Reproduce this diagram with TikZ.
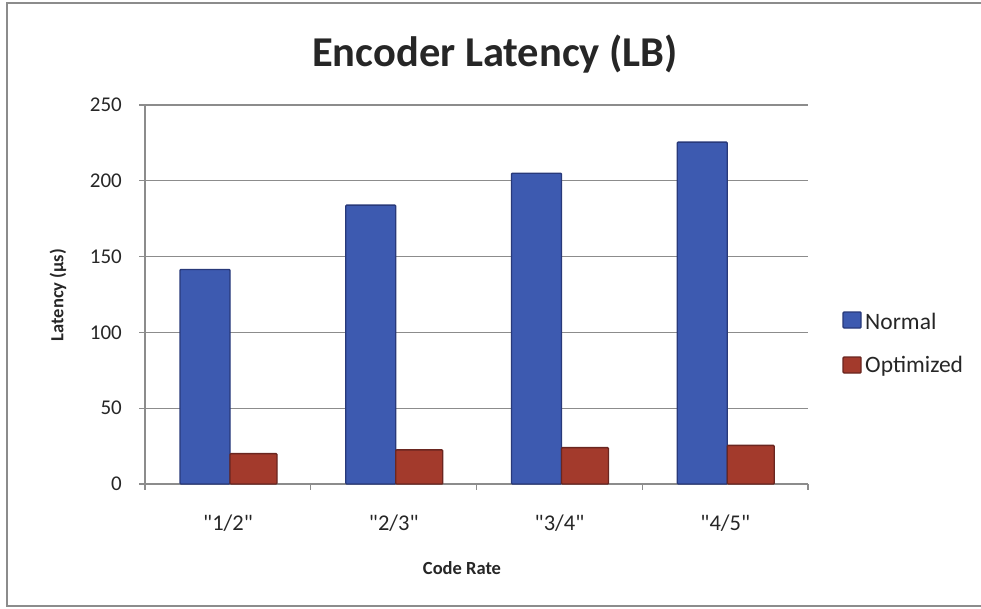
\documentclass[tikz,border=0pt]{standalone}
\usepackage{fontspec}
\setmainfont{Carlito}[Ligatures=TeXOff]
\definecolor{normalfill}{HTML}{3D5AB0}
\definecolor{normaledge}{HTML}{28397A}
\definecolor{optfill}{HTML}{A33A2C}
\definecolor{optedge}{HTML}{6A2620}
\definecolor{gridgray}{HTML}{8C8C8C}
\definecolor{textgray}{HTML}{262626}
\tikzset{
  gridline/.style={draw=gridgray, line width=1.1pt},
  axisline/.style={draw=gridgray, line width=1.3pt},
  normalbar/.style={fill=normalfill, draw=normaledge, line width=1.4pt, rounded corners=1pt},
  optbar/.style={fill=optfill, draw=optedge, line width=1.4pt, rounded corners=1pt},
  ticklabel/.style={font=\fontsize{21}{24}\selectfont, text=textgray, inner sep=0pt},
  catlabel/.style={font=\fontsize{22.5}{26}\selectfont, text=textgray, inner sep=0pt, anchor=base},
  axistitle/.style={font=\bfseries\fontsize{18.5}{22}\selectfont, text=textgray, inner sep=0pt},
  legendtext/.style={font=\fontsize{23.5}{26}\selectfont, text=textgray, inner sep=0pt, anchor=west},
}
\begin{document}
\begin{tikzpicture}[x=1pt, y=-1pt]
  \useasboundingbox (0,0) rectangle (981,609);
  % outer frame (runs past the right edge)
  \begin{scope}
    \clip (0,0) rectangle (981,609);
    \draw[gridgray, line width=1.6pt] (7,3) rectangle (1000,606);
  \end{scope}
  % title
  \node[font=\bfseries\fontsize{42.5}{46}\selectfont, text=textgray, inner sep=0pt, anchor=base] (title) at (495,67) {Encoder Latency (LB)};
  % horizontal grid lines and y tick labels
  \foreach \v in {50,100,150,200,250} {
    \draw[gridline] (145,{484-1.516*\v}) -- (808,{484-1.516*\v});
  }
  \foreach \v in {0,50,100,150,200,250} {
    \draw[axisline] (139,{484-1.516*\v}) -- (145,{484-1.516*\v});
    \node[ticklabel, anchor=east] (yl\v) at (122,{484-1.516*\v}) {\v};
  }
  % axes
  \draw[axisline] (145,105) -- (145,484);
  \draw[axisline] (145,484) -- (808,484);
  \foreach \i in {0,...,4} {
    \draw[axisline] ({145+165.75*\i},484) -- ({145+165.75*\i},490);
  }
  % bars
  \foreach \i/\n/\o/\lab in {0/141.5/20/1\slash 2, 1/184/22.5/2\slash 3, 2/205/24/3\slash 4, 3/225.5/25.5/4\slash 5} {
    \pgfmathsetmacro{\c}{145+165.75*\i}
    \draw[normalbar] ({\c+35},484) rectangle ({\c+85},{484-1.516*\n});
    \draw[optbar] ({\c+85},484) rectangle ({\c+132},{484-1.516*\o});
    \node[catlabel] (cat\i) at ({\c+83},530) {"\lab"};
  }
  % axis titles
  \node[axistitle, rotate=90] (ytitle) at (58,295) {Latency (µs)};
  \node[axistitle] (xtitle) at (462,568) {Code Rate};
  % legend
  \draw[normalbar] (843,312) rectangle (861,328);
  \node[legendtext] (lgn) at (865,321) {Normal};
  \draw[optbar] (843,357) rectangle (861,373);
  \node[legendtext] (lgo) at (865,366) {Optimized};
\end{tikzpicture}
\end{document}
